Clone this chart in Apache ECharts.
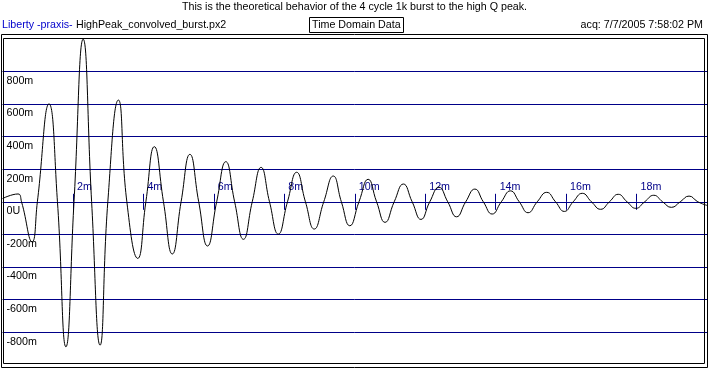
<!DOCTYPE html>
<html>
<head>
<meta charset="utf-8">
<script src="https://cdn.jsdelivr.net/npm/echarts@6/dist/echarts.min.js"></script>
<style>
html,body{margin:0;padding:0;background:#fff;}
#chart{width:709px;height:380px;}
</style>
</head>
<body>
<div id="chart"></div>
<script>
// Time (ms) and amplitude (V): peaks, troughs and zero crossings
var timeMs = [0, 0.44, 0.54, 0.84, 0.99, 1.32, 1.56, 1.80, 2.03, 2.29, 2.53, 2.77, 2.99, 3.29, 3.53, 3.84,
  4.07, 4.31, 4.57, 4.82, 5.07, 5.32, 5.57, 5.82, 6.08, 6.34, 6.59, 6.84, 7.09, 7.34, 7.58, 7.83,
  8.09, 8.35, 8.60, 8.85, 9.12, 9.39, 9.62, 9.86, 10.12, 10.38, 10.62, 10.86, 11.12, 11.38, 11.63, 11.88,
  12.13, 12.39, 12.64, 12.89, 13.15, 13.41, 13.65, 13.90, 14.16, 14.42, 14.67, 14.92, 15.18, 15.45, 15.70, 15.95,
  16.20, 16.46, 16.72, 16.98, 17.23, 17.48, 17.73, 17.98, 18.23, 18.49, 18.74, 18.99, 19.24, 19.49, 19.74, 20];
var amplitude = [0.02, 0.048, 0, -0.245, 0, 0.60, 0, -0.889, 0, 0.997, 0, -0.879, 0, 0.624, 0, -0.347,
  0, 0.338, 0, -0.320, 0, 0.291, 0, -0.271, 0, 0.246, 0, -0.230, 0, 0.211, 0, -0.198,
  0, 0.181, 0, -0.167, 0, 0.158, 0, -0.147, 0, 0.138, 0, -0.126, 0, 0.109, 0, -0.108,
  0, 0.089, 0, -0.092, 0, 0.078, 0, -0.075, 0, 0.067, 0, -0.067, 0, 0.058, 0, -0.059,
  0, 0.052, 0, -0.046, 0, 0.046, 0, -0.040, 0, 0.040, 0, -0.034, 0, 0.035, 0, -0.022];
var xTickValues = [2, 4, 6, 8, 10, 12, 14, 16, 18];
var yTickValues = [-0.8, -0.6, -0.4, -0.2, 0, 0.2, 0.4, 0.6, 0.8];
var headerTitle = 'This is the theoretical behavior of the 4 cycle 1k burst to the high Q peak.';
var headerProgram = 'Liberty -praxis-';
var headerFile = 'HighPeak_convolved_burst.px2';
var headerBox = 'Time Domain Data';
var headerAcq = 'acq: 7/7/2005 7:58:02 PM';

var FONT = '"Liberation Sans", Arial, sans-serif';
var FS = 10.7;
var NAVY = '#000088';

var data = timeMs.map(function (t, i) { return [t, amplitude[i]]; });

// plot area geometry
var PL = 2.5, PR = 2, PT = 38.7, PH = 326.2;

var chart = echarts.init(document.getElementById('chart'), null, {renderer: 'canvas'});
chart.setOption({
  animation: false,
  backgroundColor: '#ffffff',
  textStyle: {fontFamily: FONT},
  title: [
    {text: headerTitle, left: 'center', top: 2, padding: 0,
      textStyle: {fontSize: FS, fontWeight: 'normal', color: '#000', fontFamily: FONT}},
    {text: headerProgram, left: 2, top: 20, padding: 0,
      textStyle: {fontSize: FS, fontWeight: 'normal', color: '#0000cc', fontFamily: FONT}},
    {text: headerFile, left: 76, top: 20, padding: 0,
      textStyle: {fontSize: FS, fontWeight: 'normal', color: '#000', fontFamily: FONT}},
    {text: headerBox, left: 309, top: 17, padding: [3, 3, 2, 3], borderColor: '#000', borderWidth: 1,
      textStyle: {fontSize: FS, fontWeight: 'normal', color: '#000', fontFamily: FONT}},
    {text: headerAcq, right: 6, top: 20, padding: 0,
      textStyle: {fontSize: FS, fontWeight: 'normal', color: '#000', fontFamily: FONT}}
  ],
  grid: [
    {left: PL, right: PR, top: PT, height: PH},
    {left: PL, right: PR, top: PT, height: PH / 2},
    {left: PL, right: PR, top: PT + PH / 2, height: PH / 2}
  ],
  xAxis: [
    {gridIndex: 0, type: 'value', min: 0, max: 20, interval: 2,
      axisLine: {show: false}, axisTick: {show: false}, axisLabel: {show: false}, splitLine: {show: false}},
    {gridIndex: 1, type: 'value', min: 0, max: 20, interval: 2, position: 'bottom',
      axisLine: {show: false},
      axisTick: {show: true, inside: true, length: 8, customValues: xTickValues, lineStyle: {color: NAVY, width: 1}},
      axisLabel: {show: true, inside: true, margin: 9, customValues: xTickValues, align: 'left',
        padding: [0, 0, 0, 4], color: NAVY, fontSize: FS, fontFamily: FONT,
        formatter: function (v) { return v + 'm'; }},
      splitLine: {show: false}},
    {gridIndex: 2, type: 'value', min: 0, max: 20, interval: 2, position: 'top',
      axisLine: {show: false},
      axisTick: {show: true, inside: true, length: 8, customValues: xTickValues, lineStyle: {color: NAVY, width: 1}},
      axisLabel: {show: false},
      splitLine: {show: false}}
  ],
  yAxis: [
    {gridIndex: 0, type: 'value', min: -1, max: 1, interval: 0.2, position: 'left',
      axisLine: {show: false}, axisTick: {show: false},
      axisLabel: {show: true, inside: true, margin: 4, verticalAlign: 'top', padding: [4, 0, 0, 0],
        customValues: yTickValues, color: '#000', fontSize: FS, fontFamily: FONT,
        formatter: function (v) { return Math.abs(v) < 1e-9 ? '0U' : Math.round(v * 1000) + 'm'; }},
      splitLine: {show: true, showMinLine: false, showMaxLine: false, lineStyle: {color: NAVY, width: 1}}},
    {gridIndex: 1, type: 'value', min: 0, max: 1, show: false},
    {gridIndex: 2, type: 'value', min: -1, max: 0, show: false}
  ],
  series: [{
    type: 'line', data: data, xAxisIndex: 0, yAxisIndex: 0, showSymbol: false, smooth: 0.5,
    lineStyle: {color: '#000', width: 1}, clip: true, z: 3
  }],
  graphic: [
    {type: 'rect', shape: {x: 1.5, y: 34.5, width: 706, height: 333}, style: {fill: null, stroke: '#000', lineWidth: 1}, z: 100, silent: true},
    {type: 'rect', shape: {x: 3.5, y: 38.5, width: 701, height: 325}, style: {fill: null, stroke: '#000', lineWidth: 1}, z: 100, silent: true}
  ]
});
</script>
</body>
</html>
